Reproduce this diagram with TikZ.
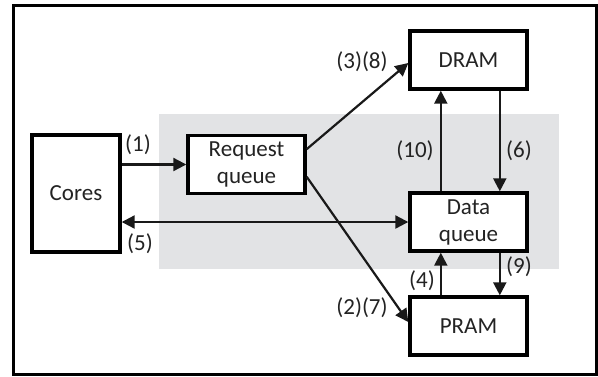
\documentclass[tikz,border=0pt]{standalone}
\usepackage{fontspec}
\setmainfont{Carlito}
\usetikzlibrary{arrows.meta,calc}
\definecolor{greybg}{RGB}{226,227,229}
\definecolor{ink}{RGB}{35,35,35}
\begin{document}
\begin{tikzpicture}[x=0.5pt,y=-0.5pt,
  font=\fontsize{11.5pt}{13.5pt}\selectfont,
  box/.style={draw=black,line width=1.7pt,fill=white,text=ink,align=center,inner sep=0pt,
    minimum width=58.5pt,minimum height=29pt},
  tip/.style={Triangle[length=6.5pt,width=6.5pt]},
  conn/.style={line width=1.1pt,draw=black!90,-{Triangle[length=6.5pt,width=6.5pt]}},
  lbl/.style={text=ink,inner sep=0pt}]
\useasboundingbox (0,0) rectangle (598,376);
\fill[white] (0,0) rectangle (598,376);
\draw[line width=1.5pt] (13,5) rectangle (596,374);
\fill[greybg] (159,114) rectangle (559,269);

\node[box,minimum width=44pt,minimum height=58.5pt] (cores) at (76,193.5) {Cores};
\node[box] (req) at (246.5,164.5) {Request\\queue};
\node[box] (dram) at (468.5,60) {DRAM};
\node[box] (data) at (468.5,222) {Data\\queue};
\node[box] (pram) at (468.5,326) {PRAM};

\coordinate (reqA) at ($(req.north east)!0.25!(req.south east)$);
\coordinate (reqB) at ($(req.north east)!0.70!(req.south east)$);
\coordinate (dataL) at ($(data.north west)!0.27!(data.north east)$);
\coordinate (dataR) at ($(data.north west)!0.76!(data.north east)$);
\coordinate (dataLb) at ($(data.south west)!0.27!(data.south east)$);
\coordinate (dataRb) at ($(data.south west)!0.76!(data.south east)$);

\draw[conn] (cores.east |- req.west) -- (req.west);
\draw[conn,{Triangle[length=6.5pt,width=6.5pt]}-{Triangle[length=6.5pt,width=6.5pt]}] (cores.east |- data.west) -- (data.west);
\draw[conn] (reqA) -- ($(dram.west)+(0,3)$);
\draw[conn] (reqB) -- ($(pram.west)+(0,-4)$);
\draw[conn] (dataL) -- (dataL |- dram.south);
\draw[conn] (dram.south -| dataR) -- (dataR);
\draw[conn] (pram.north -| dataLb) -- (dataLb);
\draw[conn] (dataRb) -- (dataRb |- pram.north);

\node[lbl] (l1) at (138,145) {(1)};
\node[lbl] (l5) at (140,244) {(5)};
\node[lbl] (l38) at (362,62) {(3)(8)};
\node[lbl] (l10) at (415,151) {(10)};
\node[lbl] (l6) at (519,151) {(6)};
\node[lbl] (l9) at (519,267) {(9)};
\node[lbl] (l4) at (422,281) {(4)};
\node[lbl] (l27) at (362,308) {(2)(7)};
\end{tikzpicture}
\end{document}
